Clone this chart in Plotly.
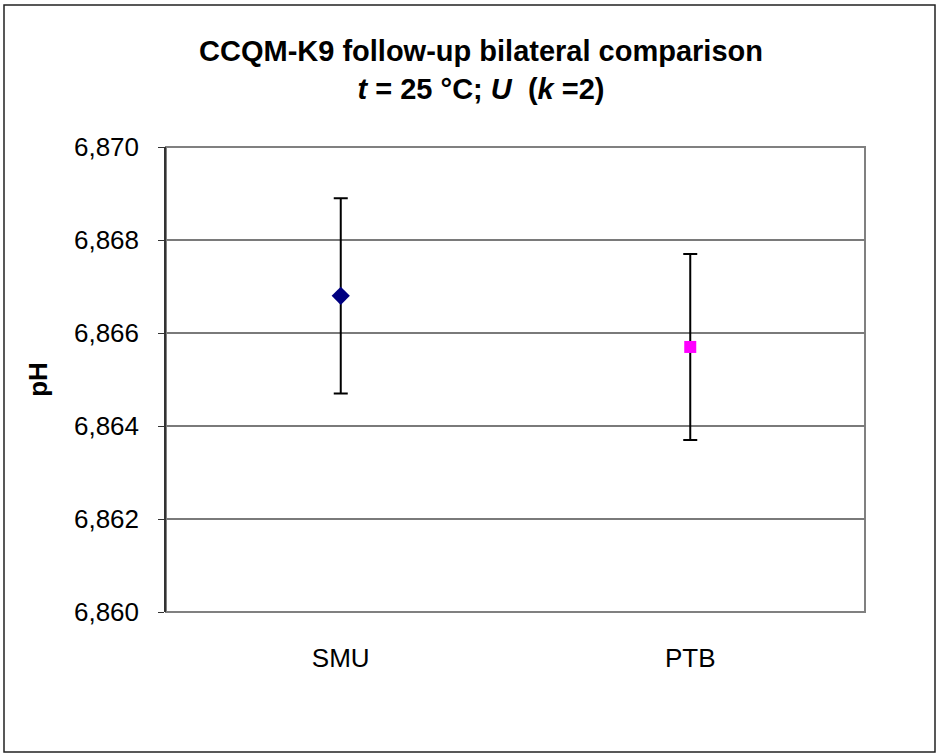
import plotly.graph_objects as go

labs = ["SMU", "PTB"]
ph_values = [6.8668, 6.86570]
ph_unc = [0.00210, 0.00200]
ytick_vals = [6.860, 6.862, 6.864, 6.866, 6.868, 6.870]
symbols = ["diamond", "square"]
colors = ["#000080", "#FF00FF"]

W, H = 937, 754
ml, mr, mt, mb = 166, 72, 147, 142
pw, ph = W - ml - mr, H - mt - mb

fig = go.Figure()
for i in range(len(labs)):
    fig.add_trace(go.Scatter(
        x=[labs[i]], y=[ph_values[i]], mode="markers",
        marker=dict(symbol=symbols[i], size=14 if symbols[i] == "diamond" else 12,
                    color=colors[i], line=dict(width=0)),
        error_y=dict(type="data", array=[ph_unc[i]], visible=True,
                     color="black", thickness=2, width=7),
        showlegend=False,
    ))

font = "Liberation Sans, Arial, sans-serif"
fig.update_layout(
    width=W, height=H,
    margin=dict(l=ml, r=mr, t=mt, b=mb, autoexpand=False),
    paper_bgcolor="white", plot_bgcolor="white",
    separators=",.",
    font=dict(family=font, size=26, color="black"),
    title=dict(
        text="<b>CCQM-K9 follow-up bilateral comparison<br><i>t</i> = 25 °C; <i>U</i>  (<i>k</i> =2)</b>",
        x=481 / W, xref="container", xanchor="center", y=1 - 61 / H, yanchor="top",
        font=dict(size=29, family=font),
    ),
    xaxis=dict(
        type="category", categoryarray=labs, range=[-0.5, 1.5],
        showgrid=False, showline=False, ticks="", zeroline=False,
        tickfont=dict(size=26), ticklabelstandoff=28,
    ),
    yaxis=dict(
        range=[6.860, 6.870], tickvals=ytick_vals, tickformat=".3f",
        showgrid=True, gridcolor="#7a7a7a", gridwidth=1.5,
        showline=True, linecolor="#333333", linewidth=1.5,
        ticks="outside", ticklen=6, tickcolor="#333333",
        tickfont=dict(size=26), zeroline=False, ticklabelstandoff=14,
        title=dict(text="<b>pH</b>", font=dict(size=26), standoff=19),
    ),
)

# plot area border (gray)
fig.add_shape(type="rect", xref="paper", yref="paper", x0=0, y0=0, x1=1, y1=1,
              line=dict(color="#808080", width=2), layer="below")
# outer chart frame
fig.add_shape(type="rect", xref="paper", yref="paper",
              x0=(4 - ml) / pw, x1=(935 - ml) / pw,
              y0=-(752 - mt - ph) / ph, y1=1 + (mt - 5) / ph,
              line=dict(color="#222222", width=1.5))

fig.write_html("out.html")
